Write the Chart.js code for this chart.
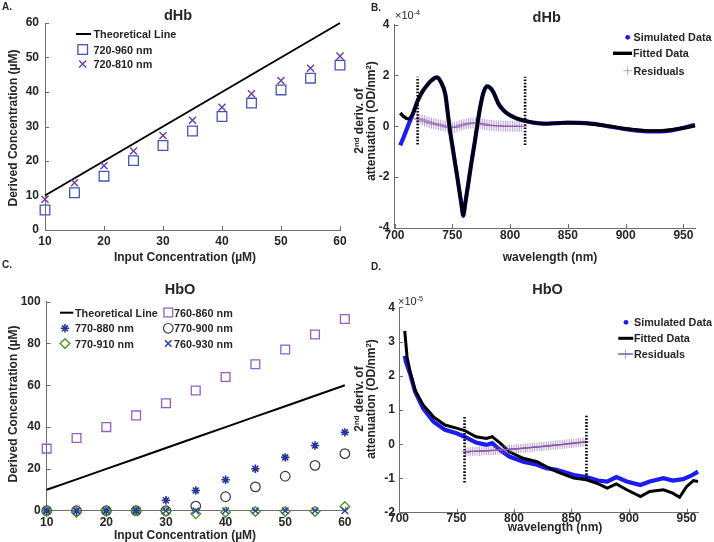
<!DOCTYPE html>
<html>
<head>
<meta charset="utf-8">
<script src="https://cdn.jsdelivr.net/npm/chart.js@4.4.0/dist/chart.umd.min.js"></script>
<style>
  body { margin: 0; background: #fff; }
  #fig { position: relative; width: 714px; height: 542px; overflow: hidden; font-family: "Liberation Sans", Arial, sans-serif; color: #262626; }
  #fig canvas { position: absolute; }
  .t { position: absolute; white-space: nowrap; font-weight: bold; }
  .t sup { font-size: 0.65em; line-height: 0; vertical-align: 0.55em; }
  #leg { position: absolute; left: 0; top: 0; }
</style>
</head>
<body>
<div id="fig">
  <canvas id="cA" width="357" height="270" style="left:0;top:0"></canvas>
  <canvas id="cB" width="357" height="270" style="left:357px;top:0"></canvas>
  <canvas id="cC" width="357" height="272" style="left:0;top:270px"></canvas>
  <canvas id="cD" width="357" height="272" style="left:357px;top:270px"></canvas>
  <svg id="leg" width="714" height="542"></svg>
</div>
<script>
// ---- data ----
// A / C: input vs derived concentration (uM)
const inputConc = [10, 15, 20, 25, 30, 35, 40, 45, 50, 55, 60];
const theoryLine = [10, 15, 20, 25, 30, 35, 40, 45, 50, 55, 60];
const dHb_720_960 = [5.8, 10.8, 15.6, 20.1, 24.5, 28.7, 32.9, 36.8, 40.6, 44.0, 47.8];
const dHb_720_810 = [8.9, 13.7, 18.6, 22.9, 27.4, 31.8, 35.6, 39.5, 43.3, 46.9, 50.4];

const HbO_760_860 = [29.7, 34.8, 40.0, 45.6, 51.4, 57.5, 64.0, 70.1, 77.1, 84.3, 91.7];
const HbO_770_880 = [0, 0, 0, 0, 5.0, 9.7, 14.8, 20.1, 25.5, 31.2, 37.5];
const HbO_770_900 = [0, 0, 0, 0, 0, 2.2, 6.7, 11.4, 16.5, 21.7, 27.3];
const HbO_770_910 = [-0.4, -0.8, -0.4, 0, -0.4, -1.5, -0.8, -0.4, -0.4, -0.4, 2.0];
const HbO_760_930 = [0, 0, 0, 0, 0, 0, 0, 0, 0, 0, 0];

// B: dHb 2nd derivative spectra (x1e-4)
const wlB = [705, 708, 712, 716, 720, 724, 728, 732, 736.5, 740, 744, 746, 748, 750, 752, 754, 756, 758, 759.5, 761,
  763, 765, 767, 769, 771, 773, 775, 777, 780, 783, 786, 790, 795, 800, 806, 813, 820, 830, 840, 850,
  860, 870, 880, 890, 900, 910, 920, 930, 940, 950, 960];
const fitB = [0.52, 0.38, 0.29, 0.5, 1.0, 1.35, 1.6, 1.8, 1.92, 1.75, 1.25, 0.55, -0.17, -0.75, -1.33, -1.9, -2.5, -3.1, -3.52, -3.1,
  -2.5, -1.9, -1.3, -0.75, -0.15, 0.45, 0.95, 1.33, 1.57, 1.5, 1.3, 0.88, 0.6, 0.43, 0.3, 0.21, 0.14, 0.1, 0.12, 0.14,
  0.13, 0.1, 0.04, -0.03, -0.1, -0.15, -0.18, -0.18, -0.14, -0.07, 0.02];
const simB = [-0.75, -0.42, 0.05, 0.5, 1.0, 1.35, 1.6, 1.8, 1.92, 1.75, 1.25, 0.55, -0.17, -0.75, -1.33, -1.9, -2.5, -3.1, -3.52, -3.1,
  -2.5, -1.9, -1.3, -0.75, -0.15, 0.45, 0.95, 1.33, 1.57, 1.5, 1.3, 0.88, 0.6, 0.43, 0.3, 0.21, 0.14, 0.1, 0.12, 0.14,
  0.13, 0.1, 0.04, -0.04, -0.11, -0.17, -0.2, -0.2, -0.16, -0.06, 0.06];
const resWlB = [720, 722, 724, 726, 728, 730, 732, 734, 736, 738, 740, 742, 744, 746, 748, 750, 752, 754, 756, 758,
  760, 762, 764, 766, 768, 770, 772, 774, 776, 778, 780, 782, 784, 786, 788, 790, 792, 794, 796, 798,
  800, 802, 804, 806, 808, 810];
const resB = [0.30, 0.27, 0.24, 0.21, 0.18, 0.15, 0.12, 0.10, 0.08, 0.06, 0.04, 0.02, 0.00, -0.03, -0.05, -0.05, -0.04, -0.02, 0.01, 0.04,
  0.07, 0.09, 0.11, 0.12, 0.13, 0.13, 0.12, 0.11, 0.09, 0.07, 0.05, 0.04, 0.03, 0.02, 0.02, 0.01, 0.01, 0.01, 0.00, 0.00,
  0.00, 0.00, 0.00, 0.00, 0.00, 0.00];
const cutB = [720, 813];
const cutLowB = [-0.72, -0.74];
const cutHighB = [1.95, 1.95];

// D: HbO 2nd derivative spectra (x1e-5)
const wlDfit = [705, 707, 710, 714, 721, 730, 740, 750, 757, 767, 776, 781, 788, 796, 808, 820, 828, 837, 852, 863,
  872, 881, 889, 898, 910, 918, 930, 938, 944, 950, 956, 960];
const fitD = [3.31, 2.55, 2.07, 1.58, 1.15, 0.80, 0.56, 0.47, 0.40, 0.22, 0.17, 0.22, 0.03, -0.22, -0.41, -0.51, -0.65, -0.80, -0.99, -1.04,
  -1.14, -1.28, -1.16, -1.33, -1.53, -1.38, -1.33, -1.43, -1.55, -1.24, -1.06, -1.09];
const wlDsim = [705, 706, 710, 714, 721, 730, 740, 750, 757, 767, 776, 781, 788, 796, 808, 820, 828, 837, 852, 863,
  873, 881, 889, 898, 910, 918, 930, 938, 947, 954, 960];
const simD = [2.58, 2.41, 2.02, 1.53, 1.05, 0.66, 0.42, 0.32, 0.22, 0.05, -0.02, 0.03, -0.17, -0.36, -0.51, -0.60, -0.70, -0.75, -0.90, -0.96,
  -1.06, -1.09, -0.96, -1.09, -1.19, -1.09, -0.99, -1.06, -1.02, -0.92, -0.80];
const resWlD = [758, 760, 762, 764, 766, 768, 770, 772, 774, 776, 778, 780, 782, 784, 786, 788, 790, 792, 794, 796,
  798, 800, 802, 804, 806, 808, 810, 812, 814, 816, 818, 820, 822, 824, 826, 828, 830, 832, 834, 836,
  838, 840, 842, 844, 846, 848, 850, 852, 854, 856, 858, 860, 862];
const resD = [-0.22, -0.22, -0.21, -0.21, -0.21, -0.20, -0.20, -0.20, -0.19, -0.19, -0.19, -0.18, -0.18, -0.18, -0.17, -0.17, -0.16, -0.16, -0.15, -0.15,
  -0.14, -0.14, -0.13, -0.13, -0.12, -0.12, -0.11, -0.10, -0.10, -0.09, -0.09, -0.08, -0.07, -0.07, -0.06, -0.05, -0.05, -0.04, -0.03, -0.03,
  -0.02, -0.01, -0.01, 0.00, 0.01, 0.02, 0.02, 0.03, 0.04, 0.05, 0.05, 0.06, 0.07];
const cutD = [757, 863];
const cutLowD = [-1.12, -0.99];
const cutHighD = [0.85, 0.85];

// tick labels
const concTicks = [10, 20, 30, 40, 50, 60];
const yTicksA = [0, 10, 20, 30, 40, 50, 60];
const yTicksC = [0, 20, 40, 60, 80, 100];
const wlTicks = [700, 750, 800, 850, 900, 950];
const yTicksB = [-4, -2, 0, 2, 4];
const yTicksD = [-2, -1, 0, 1, 2, 3, 4];

// ---- styling ----
const FONT = '"Liberation Sans", Arial, sans-serif';
const AXIS = '#6e6e6e';
const TXT = '#262626';
const colSqA = '#4455bb', colXA = '#6f3d9e';
const colSqC = '#9260c8', colStarC = '#28339a', colCircC = '#3a3a3a', colDiaC = '#4e9a1e', colXC = '#2a3db0';
const colSim = '#1c1cf0', colRes = 'rgba(140,95,178,0.6)', colResLine = '#6a3d8f';

Chart.defaults.font.family = FONT;
Chart.defaults.animation = false;

const pts = (xs, ys) => xs.map((x, i) => ({ x: x, y: ys[i] }));

function markers(xs, ys, style, color, r, bw, order) {
  return { data: pts(xs, ys), showLine: false, pointStyle: style, pointRadius: r,
    pointBorderColor: color, pointBackgroundColor: 'rgba(0,0,0,0)', pointBorderWidth: bw,
    borderColor: color, clip: false, order: order };
}
function line(xs, ys, color, w, order, extra) {
  return Object.assign({ data: pts(xs, ys), borderColor: color, borderWidth: w, pointRadius: 0,
    fill: false, clip: false, order: order }, extra || {});
}
function cutoffs(xs, lo, hi) {
  return xs.map((x, i) => line([x, x], [lo[i], hi[i]], '#000', 2.6, 0, { borderDash: [1.6, 1.6] }));
}

// inward MATLAB-style tick marks
const inTicks = {
  id: 'inTicks',
  beforeDatasetsDraw(chart) {
    const ctx = chart.ctx, a = chart.chartArea, sx = chart.scales.x, sy = chart.scales.y;
    ctx.save();
    ctx.strokeStyle = AXIS;
    ctx.lineWidth = 1;
    ctx.beginPath();
    sx.ticks.forEach(t => {
      const p = Math.round(sx.getPixelForValue(t.value)) + 0.5;
      ctx.moveTo(p, a.bottom); ctx.lineTo(p, a.bottom - 4);
    });
    sy.ticks.forEach(t => {
      const p = Math.round(sy.getPixelForValue(t.value)) + 0.5;
      ctx.moveTo(a.left, p); ctx.lineTo(a.left + 4, p);
    });
    ctx.stroke();
    ctx.restore();
  }
};

function scales(o) {
  const f = { family: FONT, size: 12, weight: 'bold', lineHeight: 1 };
  return {
    x: { type: 'linear', min: o.x[0], max: o.x[1],
      grid: { display: false, drawTicks: false }, border: { color: AXIS, width: 1 },
      ticks: { font: f, color: TXT, padding: o.xpad, maxRotation: 0, autoSkip: false },
      afterBuildTicks: s => { s.ticks = o.xt.map(v => ({ value: v })); },
      afterFit: s => { s.height = o.xh; } },
    y: { type: 'linear', min: o.y[0], max: o.y[1],
      grid: { display: false, drawTicks: false }, border: { color: AXIS, width: 1 },
      ticks: { font: f, color: TXT, padding: o.ypad, autoSkip: false },
      afterBuildTicks: s => { s.ticks = o.yt.map(v => ({ value: v })); },
      afterFit: s => { s.width = o.yw; } }
  };
}

function makeChart(id, datasets, sc, pad) {
  return new Chart(document.getElementById(id), {
    type: 'line',
    data: { datasets: datasets },
    options: { responsive: false, layout: { padding: pad }, scales: sc,
      plugins: { legend: { display: false }, tooltip: { enabled: false } } },
    plugins: [inTicks]
  });
}

// A
makeChart('cA', [
  line(inputConc, theoryLine, '#000', 2, 2),
  markers(inputConc, dHb_720_960, 'rect', colSqA, 6.8, 1.3, 1),
  markers(inputConc, dHb_720_810, 'crossRot', colXA, 5, 1.4, 0)
], scales({ x: [10, 60], xt: concTicks, y: [0, 60], yt: yTicksA, xh: 40, yw: 45, xpad: 5.5, ypad: 6 }),
  { left: 0, top: 23, right: 17, bottom: 0 });

// B
makeChart('cB', [
  ...cutoffs(cutB, cutLowB, cutHighB),
  line(wlB, fitB, '#000', 3.4, 1, { cubicInterpolationMode: 'monotone' }),
  markers(resWlB, resB, 'cross', colRes, 5.5, 1, 2),
  line(wlB, simB, colSim, 4.2, 3, { cubicInterpolationMode: 'monotone' })
], scales({ x: [700, 960], xt: wlTicks, y: [-4, 4], yt: yTicksB, xh: 42, yw: 37.5, xpad: 2, ypad: 5 }),
  { left: 0, top: 24.5, right: 19, bottom: 0 });

// C
makeChart('cC', [
  line(inputConc, theoryLine, '#000', 2, 6),
  markers(inputConc, HbO_760_860, 'rect', colSqC, 6.2, 1.3, 5),
  markers(inputConc, HbO_770_880, 'star', colStarC, 4.2, 1.6, 4),
  markers(inputConc, HbO_770_900, 'circle', colCircC, 4.8, 1.2, 3),
  markers(inputConc, HbO_770_910, 'rectRot', colDiaC, 4.8, 1.4, 2),
  markers(inputConc, HbO_760_930, 'crossRot', colXC, 4.6, 1.4, 1)
], scales({ x: [10, 60], xt: concTicks, y: [0, 100], yt: yTicksC, xh: 31.3, yw: 46.7, xpad: 5.5, ypad: 6 }),
  { left: 0, top: 31.7, right: 12, bottom: 0 });

// D
makeChart('cD', [
  ...cutoffs(cutD, cutLowD, cutHighD),
  line(resWlD, resD, colResLine, 1.4, 1, { pointStyle: 'cross', pointRadius: 4.5, pointBorderColor: colRes, pointBorderWidth: 1 }),
  line(wlDfit, fitD, '#000', 3, 2),
  line(wlDsim, simD, colSim, 4.2, 3)
], scales({ x: [700, 960], xt: wlTicks, y: [-2, 4], yt: yTicksD, xh: 29.3, yw: 42, xpad: 0, ypad: 4 }),
  { left: 0, top: 37.3, right: 16, bottom: 0 });

// ---- text ----
const fig = document.getElementById('fig');
function text(html, x, y, o) {
  o = o || {};
  const d = document.createElement('div');
  d.className = 't';
  d.innerHTML = html;
  d.style.left = x + 'px';
  d.style.top = y + 'px';
  d.style.fontSize = (o.size || 12) + 'px';
  d.style.lineHeight = (o.lh || 14) + 'px';
  if (o.weight) d.style.fontWeight = o.weight;
  if (o.align) d.style.textAlign = o.align;
  const tx = o.anchor === 'left' ? '0' : '-50%';
  d.style.transform = 'translate(' + tx + ',-50%)' + (o.rot ? ' rotate(-90deg)' : '');
  fig.appendChild(d);
}

text('A.', 2, 7, { size: 10, anchor: 'left' });
text('B.', 371, 8, { size: 10, anchor: 'left' });
text('C.', 2, 265, { size: 10, anchor: 'left' });
text('D.', 371, 267, { size: 10, anchor: 'left' });

text('dHb', 178, 15, { size: 14.5 });
text('dHb', 546.7, 16.7, { size: 14.5 });
text('HbO', 180, 289, { size: 14.5 });
text('HbO', 547.5, 289, { size: 14.5 });

text('Input Concentration (µM)', 185, 257, { size: 12 });
text('wavelength (nm)', 550, 257, { size: 12 });
text('Input Concentration (µM)', 185, 535, { size: 12 });
text('wavelength (nm)', 555, 527, { size: 12 });

text('Derived Concentration (µM)', 13, 128, { size: 12, rot: true });
text('Derived Concentration (µM)', 13, 404, { size: 12, rot: true });
const ySpec = '2<sup>nd</sup> deriv. of<br>attenuation (OD/nm<sup>2</sup>)';
text(ySpec, 365, 121, { size: 12, lh: 12, rot: true, align: 'center' });
text(ySpec, 365, 399, { size: 12, lh: 12, rot: true, align: 'center' });

text('×10<sup>-4</sup>', 395, 15, { size: 11, anchor: 'left', weight: 'normal' });
text('×10<sup>-5</sup>', 398, 301, { size: 11, anchor: 'left', weight: 'normal' });

// ---- legends ----
const svg = document.getElementById('leg');
let shapes = '';
function sym(type, cx, cy, r, color, w) {
  const s = 'stroke="' + color + '" stroke-width="' + w + '" fill="none"';
  const d = r * Math.SQRT1_2;
  if (type === 'rect') shapes += '<rect x="' + (cx - d) + '" y="' + (cy - d) + '" width="' + 2 * d + '" height="' + 2 * d + '" ' + s + '/>';
  if (type === 'crossRot' || type === 'star') shapes += '<path d="M' + (cx - d) + ' ' + (cy - d) + 'L' + (cx + d) + ' ' + (cy + d) + 'M' + (cx - d) + ' ' + (cy + d) + 'L' + (cx + d) + ' ' + (cy - d) + '" ' + s + '/>';
  if (type === 'cross' || type === 'star') shapes += '<path d="M' + (cx - r) + ' ' + cy + 'L' + (cx + r) + ' ' + cy + 'M' + cx + ' ' + (cy - r) + 'L' + cx + ' ' + (cy + r) + '" ' + s + '/>';
  if (type === 'circle') shapes += '<circle cx="' + cx + '" cy="' + cy + '" r="' + r + '" ' + s + '/>';
  if (type === 'dot') shapes += '<circle cx="' + cx + '" cy="' + cy + '" r="' + r + '" fill="' + color + '"/>';
  if (type === 'rectRot') shapes += '<path d="M' + (cx - r) + ' ' + cy + 'L' + cx + ' ' + (cy - r) + 'L' + (cx + r) + ' ' + cy + 'L' + cx + ' ' + (cy + r) + 'Z" ' + s + '/>';
}
function seg(x0, x1, y, color, w) {
  shapes += '<line x1="' + x0 + '" y1="' + y + '" x2="' + x1 + '" y2="' + y + '" stroke="' + color + '" stroke-width="' + w + '"/>';
}
function entry(label, tx, y) { text(label, tx, y, { size: 10.8, anchor: 'left' }); }

// A legend
seg(76, 91, 34, '#000', 2); entry('Theoretical Line', 93.5, 34);
sym('rect', 82.7, 49.5, 6.8, colSqA, 1.3); entry('720-960 nm', 93.5, 49.5);
sym('crossRot', 82.7, 64, 5, colXA, 1.4); entry('720-810 nm', 93.5, 64);

// B legend
sym('dot', 627.7, 37.3, 2.4, colSim); entry('Simulated Data', 633.5, 37.3);
seg(613, 632, 53.3, '#000', 3.4); entry('Fitted Data', 633, 53.3);
sym('cross', 627.7, 70.7, 4.5, colRes, 1); entry('Residuals', 633.5, 70.7);

// C legend
seg(60, 73.3, 312.7, '#000', 2); entry('Theoretical Line', 75, 312.7);
sym('rect', 168.3, 312.5, 6.2, colSqC, 1.3); entry('760-860 nm', 174, 312.7);
sym('star', 65, 328.3, 4.2, colStarC, 1.6); entry('770-880 nm', 75, 328.3);
sym('circle', 168.3, 328.3, 4.8, colCircC, 1.2); entry('770-900 nm', 174, 328.3);
sym('rectRot', 65, 343.5, 4.8, colDiaC, 1.4); entry('770-910 nm', 75, 343.5);
sym('crossRot', 168.3, 343.5, 4.6, colXC, 1.4); entry('760-930 nm', 174, 343.5);

// D legend
sym('dot', 626, 322.3, 2.4, colSim); entry('Simulated Data', 634, 322.3);
seg(618.3, 633.3, 338.3, '#000', 3); entry('Fitted Data', 634, 338.3);
seg(618, 633, 354, colResLine, 1.2); sym('cross', 625.5, 354, 4.5, colRes, 1); entry('Residuals', 634, 354);

svg.innerHTML = shapes;
</script>
</body>
</html>
